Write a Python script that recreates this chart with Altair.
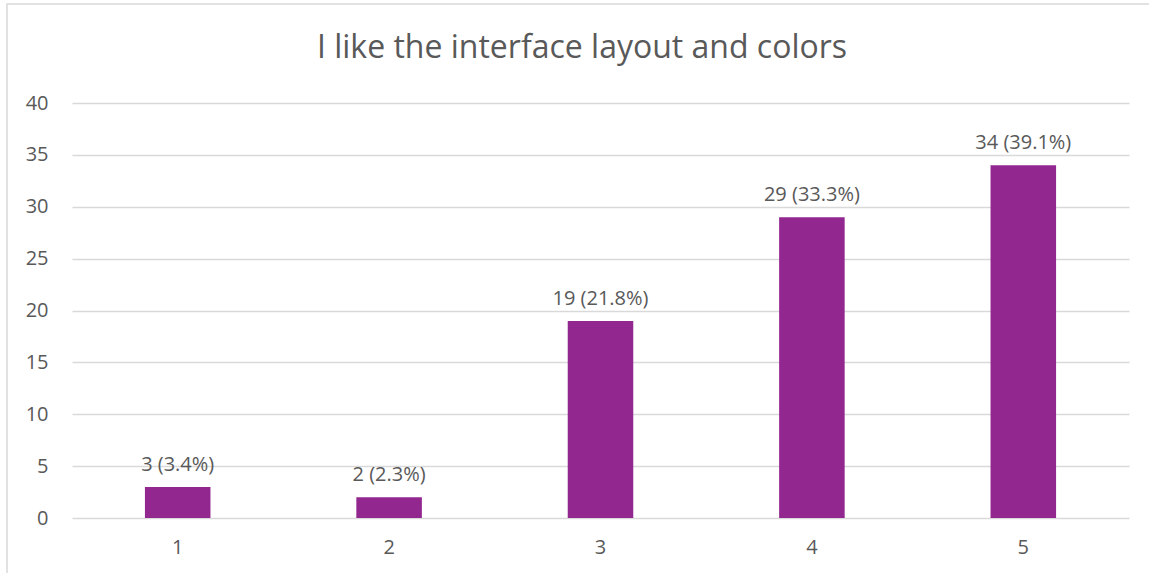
import altair as alt
import pandas as pd

categories = ["1", "2", "3", "4", "5"]
counts = [3, 2, 19, 29, 34]
labels = ["3 (3.4%)", "2 (2.3%)", "19 (21.8%)", "29 (33.3%)", "34 (39.1%)"]
title_text = "I like the interface layout and colors"

df = pd.DataFrame({"cat": categories, "count": counts, "label": labels})

FONT = "Open Sans"
TXT = "#595959"

x = alt.X("cat:N", sort=categories, title=None,
          scale=alt.Scale(paddingInner=0.69, paddingOuter=0.345),
          axis=alt.Axis(labelAngle=0, domain=False, ticks=False, labelPadding=19,
                        labelFontSize=20, labelColor=TXT, labelFont=FONT, grid=False))
y = alt.Y("count:Q", title=None,
          scale=alt.Scale(domain=[0, 40]),
          axis=alt.Axis(values=[0, 5, 10, 15, 20, 25, 30, 35, 40], domain=False, ticks=False,
                        labelPadding=24, labelFontSize=20, labelColor=TXT, labelFont=FONT,
                        grid=True, gridColor="#d9d9d9", gridWidth=1.3))

bars = alt.Chart(df).mark_bar(color="#92278F").encode(x=x, y=y)
text = alt.Chart(df).mark_text(baseline="alphabetic", dy=-16, fontSize=20, color=TXT, font=FONT).encode(
    x=alt.X("cat:N", sort=categories), y="count:Q", text="label:N")

title_df = pd.DataFrame({"t": [title_text]})
title = alt.Chart(title_df).mark_text(baseline="middle", align="center", fontSize=32, color=TXT,
                                      font=FONT).encode(
    x=alt.value(510), y=alt.value(-55), text="t:N")

border = alt.Chart(title_df).mark_rect(fill=None, stroke="#d9d9d9", strokeWidth=1.5, clip=False).encode(
    x=alt.value(-65), x2=alt.value(1200), y=alt.value(-99), y2=alt.value(500))

chart = alt.layer(border, bars, text, title).properties(
    width=1057, height=415,
    padding={"left": 72, "top": 103, "right": 20, "bottom": 55},
    autosize=alt.AutoSizeParams(type="none"),
    background="white",
).configure_view(stroke=None)

chart.save("out.html", embed_options={"renderer": "svg", "actions": False})
